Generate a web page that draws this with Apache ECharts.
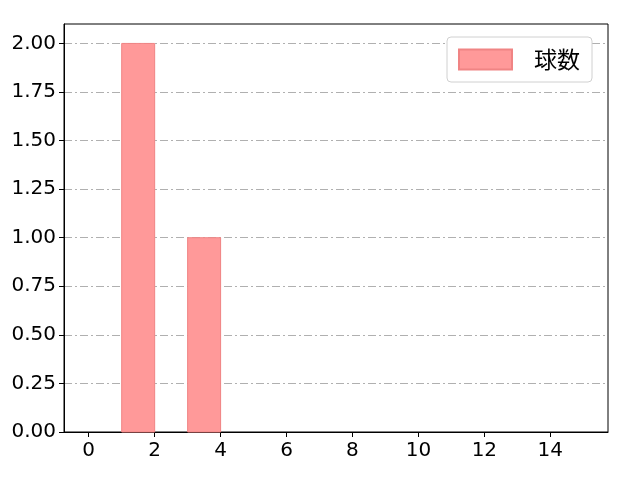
<!DOCTYPE html>
<html>
<head>
<meta charset="utf-8">
<script src="https://cdn.jsdelivr.net/npm/echarts@6/dist/echarts.min.js"></script>
<style>
  html, body { margin: 0; padding: 0; background: #fff; }
  #main { width: 640px; height: 480px; }
</style>
</head>
<body>
<div id="main"></div>
<script>
// histogram bins: left edge, right edge, count
var binStart = [1, 3];
var binEnd = [2, 4];
var counts = [2, 1];
var xTicks = [0, 2, 4, 6, 8, 10, 12, 14];
var seriesName = '球数';

var chart = echarts.init(document.getElementById('main'));
var font = '"DejaVu Sans", "Noto Sans CJK JP", sans-serif';
var cjkFont = '"Noto Sans CJK JP", sans-serif';

var data = binStart.map(function (s, i) { return [s, binEnd[i], counts[i]]; });

var option = {
    animation: false,
    textStyle: { fontFamily: font },
    grid: {
        left: 64, right: 32, top: 24, bottom: 48,
        show: true,
        borderColor: '#000',
        borderWidth: 1,
        backgroundColor: 'transparent'
    },
    legend: {
        data: [{ name: seriesName, icon: 'rect' }],
        left: 447,
        top: 37,
        orient: 'vertical',
        padding: [11, 12, 11, 11],
        itemWidth: 53,
        itemHeight: 20,
        backgroundColor: '#fff',
        borderColor: '#d0d0d0',
        borderWidth: 1,
        borderRadius: 4,
        textStyle: { fontSize: 23, color: '#000', fontFamily: cjkFont, padding: [0, 0, 0, 17] }
    },
    xAxis: {
        type: 'value',
        min: -0.75,
        max: 15.75,
        axisLine: { show: true, onZero: false, lineStyle: { color: '#000' } },
        axisTick: { show: true, customValues: xTicks, length: 5, lineStyle: { color: '#000' } },
        axisLabel: { customValues: xTicks, fontSize: 20, color: '#000', margin: 9, fontFamily: font },
        splitLine: { show: false }
    },
    yAxis: {
        type: 'value',
        min: 0,
        max: 2.1,
        interval: 0.25,
        axisLine: { show: true, onZero: false, lineStyle: { color: '#000' } },
        axisTick: { show: true, length: 5, lineStyle: { color: '#000' } },
        axisLabel: {
            fontSize: 20, color: '#000', margin: 8, fontFamily: font,
            showMaxLabel: false,
            formatter: function (v) { return v.toFixed(2); }
        },
        splitLine: {
            show: true,
            showMaxLine: false,
            lineStyle: { color: '#b0b0b0', width: 1, type: [8, 3, 2, 3] }
        }
    },
    series: [{
        name: seriesName,
        type: 'custom',
        itemStyle: { color: '#ff9999', borderColor: '#f08484', borderWidth: 1 },
        encode: { x: [0, 1], y: 2 },
        data: data,
        renderItem: function (params, api) {
            var p0 = api.coord([api.value(0), api.value(2)]);
            var p1 = api.coord([api.value(1), 0]);
            return {
                type: 'rect',
                shape: { x: p0[0], y: p0[1], width: p1[0] - p0[0], height: p1[1] - p0[1] },
                style: api.style()
            };
        }
    }]
};
chart.setOption(option);
</script>
</body>
</html>
